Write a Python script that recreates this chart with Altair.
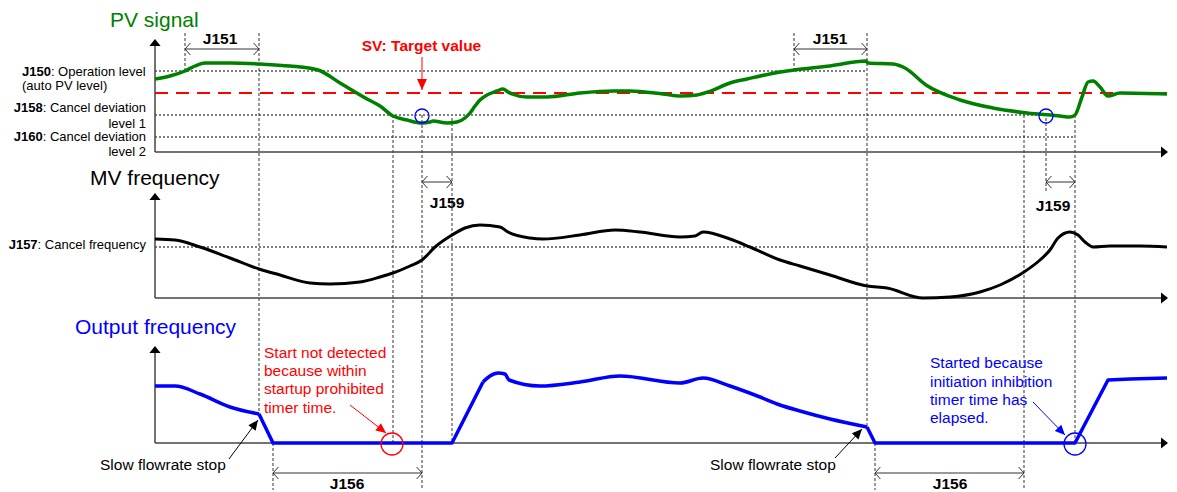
import math
import altair as alt
import pandas as pd

FONT = "Liberation Sans"
GREEN, RED, BLUE, BLACK, GREY = "#008000", "#ff0000", "#0000ff", "#000000", "#333333"

# ---------------- curves: time position / level on diagram scale ----------------
pv_t = [155, 170, 185, 195, 205, 230, 260, 290, 318, 340, 367, 380, 393, 407, 422, 430, 433, 447,
        457, 465, 470, 475, 480, 487, 497, 503, 508, 512, 527, 547, 580, 613, 630, 663, 680, 697,
        708, 730, 747, 780, 794, 830, 866, 868, 893, 905, 926, 960, 993, 1027, 1060, 1070, 1075,
        1082, 1088, 1093, 1100, 1108, 1120, 1167]
pv_v = [79, 76, 71, 66, 63, 63, 64, 66, 70, 83, 99, 106, 116, 120, 123, 122, 121, 123,
        122, 118, 113, 106, 100, 95, 91, 89, 92, 94, 97, 97, 93, 91, 91, 94, 96, 95,
        92, 83, 79, 72, 70, 66, 61, 63, 64, 68, 85, 100, 108, 113, 116, 117, 115,
        97, 82, 81, 87, 96, 93, 94]

mv_t = [155, 175, 200, 230, 259, 280, 310, 330, 360, 380, 393, 410, 422, 435, 452, 465, 480, 500,
        508, 530, 543, 580, 615, 640, 680, 695, 703, 730, 750, 780, 800, 830, 867, 887, 923, 950,
        980, 1000, 1024, 1040, 1050, 1058, 1070, 1078, 1085, 1093, 1110, 1140, 1167]
mv_v = [239, 240, 247, 258, 269, 275, 283, 284, 282, 277, 273, 266, 260, 247, 235, 228, 225, 227,
        232, 238, 239, 235, 230, 232, 237, 236, 232, 239, 247, 260, 266, 275, 286, 288, 298, 297,
        292, 285, 272, 260, 250, 238, 232, 235, 242, 247, 246, 246, 247]

out_smooth_a_t = [155, 175, 200, 230, 259]
out_smooth_a_v = [386, 386, 394, 407, 414]
out_ramp_a_t = [259, 273, 452, 483]
out_ramp_a_v = [414, 443, 443, 382]
out_smooth_b_t = [483, 490, 498, 505, 509, 540, 580, 620, 680, 703, 730, 760, 780, 800, 830, 867]
out_smooth_b_v = [382, 376, 373, 374, 380, 386, 382, 376, 383, 378, 386, 397, 405, 411, 419, 427]
out_ramp_b_t = [867, 875, 1075, 1108, 1130, 1167]
out_ramp_b_v = [427, 443, 443, 380, 379, 378]

# ---------------- reference levels ----------------
lvl_y = [71, 115, 137, 247]
lvl_x0 = [155, 155, 155, 155]
lvl_x1 = [867, 1040, 1075, 1048]
sv_y = [93]
sv_x0 = [155]
sv_x1 = [1167]

# ---------------- vertical timing markers ----------------
mark_x = [185, 259, 393, 422, 452, 794, 867, 1024, 1046, 1075, 273, 875]
mark_y0 = [33, 33, 115, 115, 118, 33, 33, 115, 118, 115, 443, 443]
mark_y1 = [70, 414, 443, 490, 443, 70, 427, 490, 193, 443, 490, 490]

# ---------------- dimension intervals ----------------
dim_label = ["J151", "J151", "J159", "J159", "J156", "J156"]
dim_x0 = [185, 794, 422, 1046, 273, 875]
dim_x1 = [259, 867, 452, 1075, 422, 1024]
dim_y = [49, 49, 182, 182, 473, 473]
dim_label_x = [220, 830, 447, 1053, 347, 950]
dim_label_y = [44, 44, 208, 211, 489, 489]

# ---------------- axes ----------------
axis_x = [155, 155, 155]
axis_top = [39, 193, 346]
axis_base = [152, 298, 443]
axis_end = 1168

# ---------------- annotation arrows ----------------
ann_x0 = [422, 350, 1033, 229, 835]
ann_y0 = [57, 405, 402, 459, 458]
ann_x1 = [422, 386, 1065, 258, 862]
ann_y1 = [90, 433, 435, 420, 429]
ann_color = [RED, RED, BLUE, BLACK, BLACK]
ann_head = [11, 10, 10, 10, 10]

# ---------------- circles ----------------
circ_x = [422, 1046, 392, 1075]
circ_y = [116, 116, 444, 444]
circ_r = [7, 7, 11, 11]
circ_color = [BLUE, BLUE, RED, BLUE]

# ---------------- texts ----------------
texts = [
    # text, x, y, size, color, weight, align
    ("PV signal", 110, 27, 21, GREEN, "normal", "left"),
    ("MV frequency", 90, 185, 21, BLACK, "normal", "left"),
    ("Output frequency", 75, 334, 21, BLUE, "normal", "left"),
    ("J150", 22, 76, 13, BLACK, "bold", "left"),
    (": Operation level", 50.9, 76, 13, BLACK, "normal", "left"),
    ("(auto PV level)", 22, 90, 13, BLACK, "normal", "left"),
    ("J158", 42.7, 112, 13, BLACK, "bold", "right"),
    (": Cancel deviation", 146, 112, 13, BLACK, "normal", "right"),
    ("level 1", 146, 128, 13, BLACK, "normal", "right"),
    ("J160", 42.7, 141, 13, BLACK, "bold", "right"),
    (": Cancel deviation", 146, 141, 13, BLACK, "normal", "right"),
    ("level 2", 146, 156, 13, BLACK, "normal", "right"),
    ("J157", 37.6, 249, 13, BLACK, "bold", "right"),
    (": Cancel frequency", 146, 249, 13, BLACK, "normal", "right"),
    ("SV: Target value", 421.5, 51, 15.5, RED, "bold", "center"),
    ("Start not detected", 264, 358, 15.5, RED, "normal", "left"),
    ("because within", 264, 376, 15.5, RED, "normal", "left"),
    ("startup prohibited", 264, 394, 15.5, RED, "normal", "left"),
    ("timer time.", 264, 412.5, 15.5, RED, "normal", "left"),
    ("Started because", 930, 368, 15.5, BLUE, "normal", "left"),
    ("initiation inhibition", 930, 386.5, 15.5, BLUE, "normal", "left"),
    ("timer time has", 930, 405, 15.5, BLUE, "normal", "left"),
    ("elapsed.", 930, 423, 15.5, BLUE, "normal", "left"),
    ("Slow flowrate stop", 100, 470, 15.5, BLACK, "normal", "left"),
    ("Slow flowrate stop", 710, 470, 15.5, BLACK, "normal", "left"),
]
for lab, lx, ly in zip(dim_label, dim_label_x, dim_label_y):
    texts.append((lab, lx, ly, 15.5, BLACK, "bold", "center"))

W, H = 1161, 484
XS = alt.Scale(domain=[8, 8 + W], nice=False, zero=False)
YS = alt.Scale(domain=[8, 8 + H], nice=False, zero=False, reverse=True)


def X(f="x"):
    return alt.X(f"{f}:Q", scale=XS, axis=None)


def Y(f="y"):
    return alt.Y(f"{f}:Q", scale=YS, axis=None)


def rules(df, **mk):
    return alt.Chart(df).mark_rule(**mk).encode(
        x=X("x"), y=Y("y"), x2="x2:Q", y2="y2:Q")


layers = []

# dotted reference lines
hdf = pd.DataFrame({"x": lvl_x0, "x2": lvl_x1, "y": lvl_y, "y2": lvl_y})
layers.append(rules(hdf, color=BLACK, strokeWidth=1, strokeDash=[2, 2]))
vdf = pd.DataFrame({"x": mark_x, "x2": mark_x, "y": mark_y0, "y2": mark_y1})
layers.append(rules(vdf, color=GREY, strokeWidth=1, strokeDash=[3, 2]))

# SV dashed line
svdf = pd.DataFrame({"x": sv_x0, "x2": sv_x1, "y": sv_y, "y2": sv_y})
layers.append(rules(svdf, color=RED, strokeWidth=2, strokeDash=[13, 8]))

# axes
ax_rows = []
for ax, top, base in zip(axis_x, axis_top, axis_base):
    ax_rows.append({"x": ax, "x2": ax, "y": base, "y2": top + 6})
    ax_rows.append({"x": ax, "x2": axis_end - 6, "y": base, "y2": base})
layers.append(rules(pd.DataFrame(ax_rows), color="#444444", strokeWidth=1.5))
head_rows = []
for ax, top, base in zip(axis_x, axis_top, axis_base):
    head_rows.append({"x": ax, "y": top, "ang": 270})
    head_rows.append({"x": axis_end, "y": base, "ang": 0})
layers.append(alt.Chart(pd.DataFrame(head_rows)).mark_point(
    shape="M 0 0 L -1 -0.8 L -1 0.8 Z", filled=True, opacity=1, color=BLACK, size=196
).encode(x=X(), y=Y(), angle=alt.Angle("ang:Q", scale=None)))

# dimension arrows
ddf = pd.DataFrame({"x": dim_x0, "x2": dim_x1, "y": dim_y, "y2": dim_y})
layers.append(rules(ddf, color=GREY, strokeWidth=1))
chev = []
for a, b, y in zip(dim_x0, dim_x1, dim_y):
    chev.append({"x": a, "y": y, "ang": 180})
    chev.append({"x": b, "y": y, "ang": 0})
layers.append(alt.Chart(pd.DataFrame(chev)).mark_point(
    shape="M -0.9 -1 L 0 0 L -0.9 1", filled=False, opacity=1, color=GREY, size=144, strokeWidth=1
).encode(x=X(), y=Y(), angle=alt.Angle("ang:Q", scale=None)))

# curves
pvdf = pd.DataFrame({"x": pv_t, "y": pv_v})
layers.append(alt.Chart(pvdf).mark_line(interpolate="monotone", color=GREEN, strokeWidth=3.5)
              .encode(x=X(), y=Y()))
mvdf = pd.DataFrame({"x": mv_t, "y": mv_v})
layers.append(alt.Chart(mvdf).mark_line(interpolate="monotone", color=BLACK, strokeWidth=3)
              .encode(x=X(), y=Y()))
smooth = pd.concat([
    pd.DataFrame({"x": out_smooth_a_t, "y": out_smooth_a_v, "seg": "a"}),
    pd.DataFrame({"x": out_smooth_b_t, "y": out_smooth_b_v, "seg": "b"}),
])
layers.append(alt.Chart(smooth).mark_line(interpolate="monotone", color=BLUE, strokeWidth=3.5)
              .encode(x=X(), y=Y(), detail="seg:N"))
ramps = pd.concat([
    pd.DataFrame({"x": out_ramp_a_t, "y": out_ramp_a_v, "seg": "a"}),
    pd.DataFrame({"x": out_ramp_b_t, "y": out_ramp_b_v, "seg": "b"}),
])
layers.append(alt.Chart(ramps).mark_line(interpolate="linear", color=BLUE, strokeWidth=3.5,
                                         strokeJoin="round")
              .encode(x=X(), y=Y(), detail="seg:N"))

# annotation arrows
adf = pd.DataFrame({"x": ann_x0, "y": ann_y0, "x2": ann_x1, "y2": ann_y1, "c": ann_color})
layers.append(alt.Chart(adf).mark_rule(strokeWidth=1).encode(
    x=X("x"), y=Y("y"), x2="x2:Q", y2="y2:Q", color=alt.Color("c:N", scale=None)))
ah = pd.DataFrame({
    "x": ann_x1, "y": ann_y1, "c": ann_color,
    "s": [(2 * h) ** 2 for h in ann_head],
    "ang": [math.degrees(math.atan2(y1 - y0, x1 - x0)) % 360
            for x0, y0, x1, y1 in zip(ann_x0, ann_y0, ann_x1, ann_y1)],
})
layers.append(alt.Chart(ah).mark_point(
    shape="M 0 0 L -1 -0.45 L -1 0.45 Z", filled=True, opacity=1
).encode(x=X(), y=Y(), color=alt.Color("c:N", scale=None), size=alt.Size("s:Q", scale=None),
         angle=alt.Angle("ang:Q", scale=None)))

# circles
cdf = pd.DataFrame({"x": circ_x, "y": circ_y, "c": circ_color,
                    "s": [(2 * r) ** 2 for r in circ_r]})
layers.append(alt.Chart(cdf).mark_point(shape="circle", filled=False, opacity=1, strokeWidth=1.3)
              .encode(x=X(), y=Y(), color=alt.Color("c:N", scale=None),
                      size=alt.Size("s:Q", scale=None)))

# texts
tdf = pd.DataFrame(texts, columns=["text", "x", "y", "size", "c", "weight", "align"])
for (wt, al), g in tdf.groupby(["weight", "align"]):
    layers.append(alt.Chart(g).mark_text(font=FONT, fontWeight=wt, align=al, baseline="alphabetic")
                  .encode(x=X(), y=Y(), text="text:N", color=alt.Color("c:N", scale=None),
                          size=alt.Size("size:Q", scale=None)))

chart = alt.layer(*layers).properties(
    width=W, height=H, padding=0, autosize=alt.AutoSizeParams(type="none")
).configure(background="white", view=alt.ViewConfig(stroke=None))

chart.save("out.html", embed_options={"renderer": "svg", "actions": False})
